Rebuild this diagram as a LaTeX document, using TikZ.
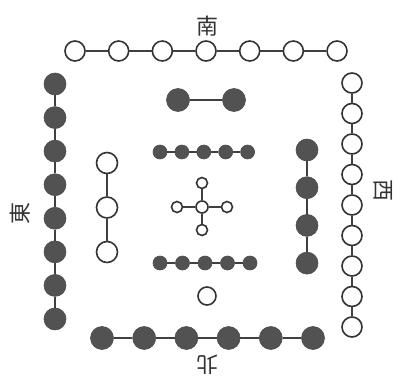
\documentclass[tikz,border=0pt]{standalone}
\usepackage{fontspec}
\newfontfamily\cjk{Noto Sans CJK TC}
\begin{document}
\begin{tikzpicture}[x=1pt,y=-1pt,
  lnk/.style={draw=black!75,line width=1.4pt},
  wc/.style={circle,draw=black!80,line width=1.6pt,fill=white,inner sep=0pt,minimum size=#1},
  bc/.style={circle,draw=black!70,line width=0.6pt,fill=black!68,inner sep=0pt,minimum size=#1},
  lbl/.style={font=\cjk\fontsize{22}{22}\selectfont,text=black!80,inner sep=0pt}]
\useasboundingbox (0,0) rectangle (397,383);
% top: 7 white
\foreach \i in {0,...,6} \node[wc=20pt] (t\i) at (75+43.67*\i,51) {};
\foreach \i [evaluate=\i as \j using int(\i+1)] in {0,...,5} \draw[lnk] (t\i) -- (t\j);
% left: 8 black
\foreach \i in {0,...,7} \node[bc=22pt] (l\i) at (55,84+33.57*\i) {};
\foreach \i [evaluate=\i as \j using int(\i+1)] in {0,...,6} \draw[lnk] (l\i) -- (l\j);
% right: 9 white
\foreach \i in {0,...,8} \node[wc=20pt] (r\i) at (352,83+30.5*\i) {};
\foreach \i [evaluate=\i as \j using int(\i+1)] in {0,...,7} \draw[lnk] (r\i) -- (r\j);
% bottom: 6 black
\foreach \i in {0,...,5} \node[bc=23pt] (b\i) at (102+42.2*\i,338) {};
\foreach \i [evaluate=\i as \j using int(\i+1)] in {0,...,4} \draw[lnk] (b\i) -- (b\j);
% inner left: 3 white
\foreach \i in {0,...,2} \node[wc=21pt] (il\i) at (107,163+44.5*\i) {};
\foreach \i [evaluate=\i as \j using int(\i+1)] in {0,...,1} \draw[lnk] (il\i) -- (il\j);
% inner right: 4 black
\foreach \i in {0,...,3} \node[bc=22pt] (ir\i) at (307,150+37.7*\i) {};
\foreach \i [evaluate=\i as \j using int(\i+1)] in {0,...,2} \draw[lnk] (ir\i) -- (ir\j);
% top pair
\node[bc=23pt] (p0) at (178,100) {};
\node[bc=23pt] (p1) at (234,100) {};
\draw[lnk] (p0) -- (p1);
% row of five (upper)
\foreach \i in {0,...,4} \node[bc=14pt] (u\i) at (160+21.9*\i,152) {};
\foreach \i [evaluate=\i as \j using int(\i+1)] in {0,...,3} \draw[lnk] (u\i) -- (u\j);
% row of five (lower)
\foreach \i in {0,...,4} \node[bc=14pt] (d\i) at (160+22.5*\i,263) {};
\foreach \i [evaluate=\i as \j using int(\i+1)] in {0,...,3} \draw[lnk] (d\i) -- (d\j);
% cross
\node[wc=12pt] (c0) at (202,207) {};
\node[wc=11pt] (cn) at (202,183) {};
\node[wc=11pt] (cs) at (202,230) {};
\node[wc=11pt] (cw) at (177,207) {};
\node[wc=11pt] (ce) at (227,207) {};
\foreach \k in {cn,cs,cw,ce} \draw[lnk] (c0) -- (\k);
% single white
\node[wc=18pt] (s) at (207,296) {};
% labels
\node[lbl] (south) at (207,26) {南};
\node[lbl,rotate=180] (north) at (207,365) {北};
\node[lbl,rotate=90] (east) at (20,213) {東};
\node[lbl,rotate=-90] (west) at (383,190) {西};
\end{tikzpicture}
\end{document}
